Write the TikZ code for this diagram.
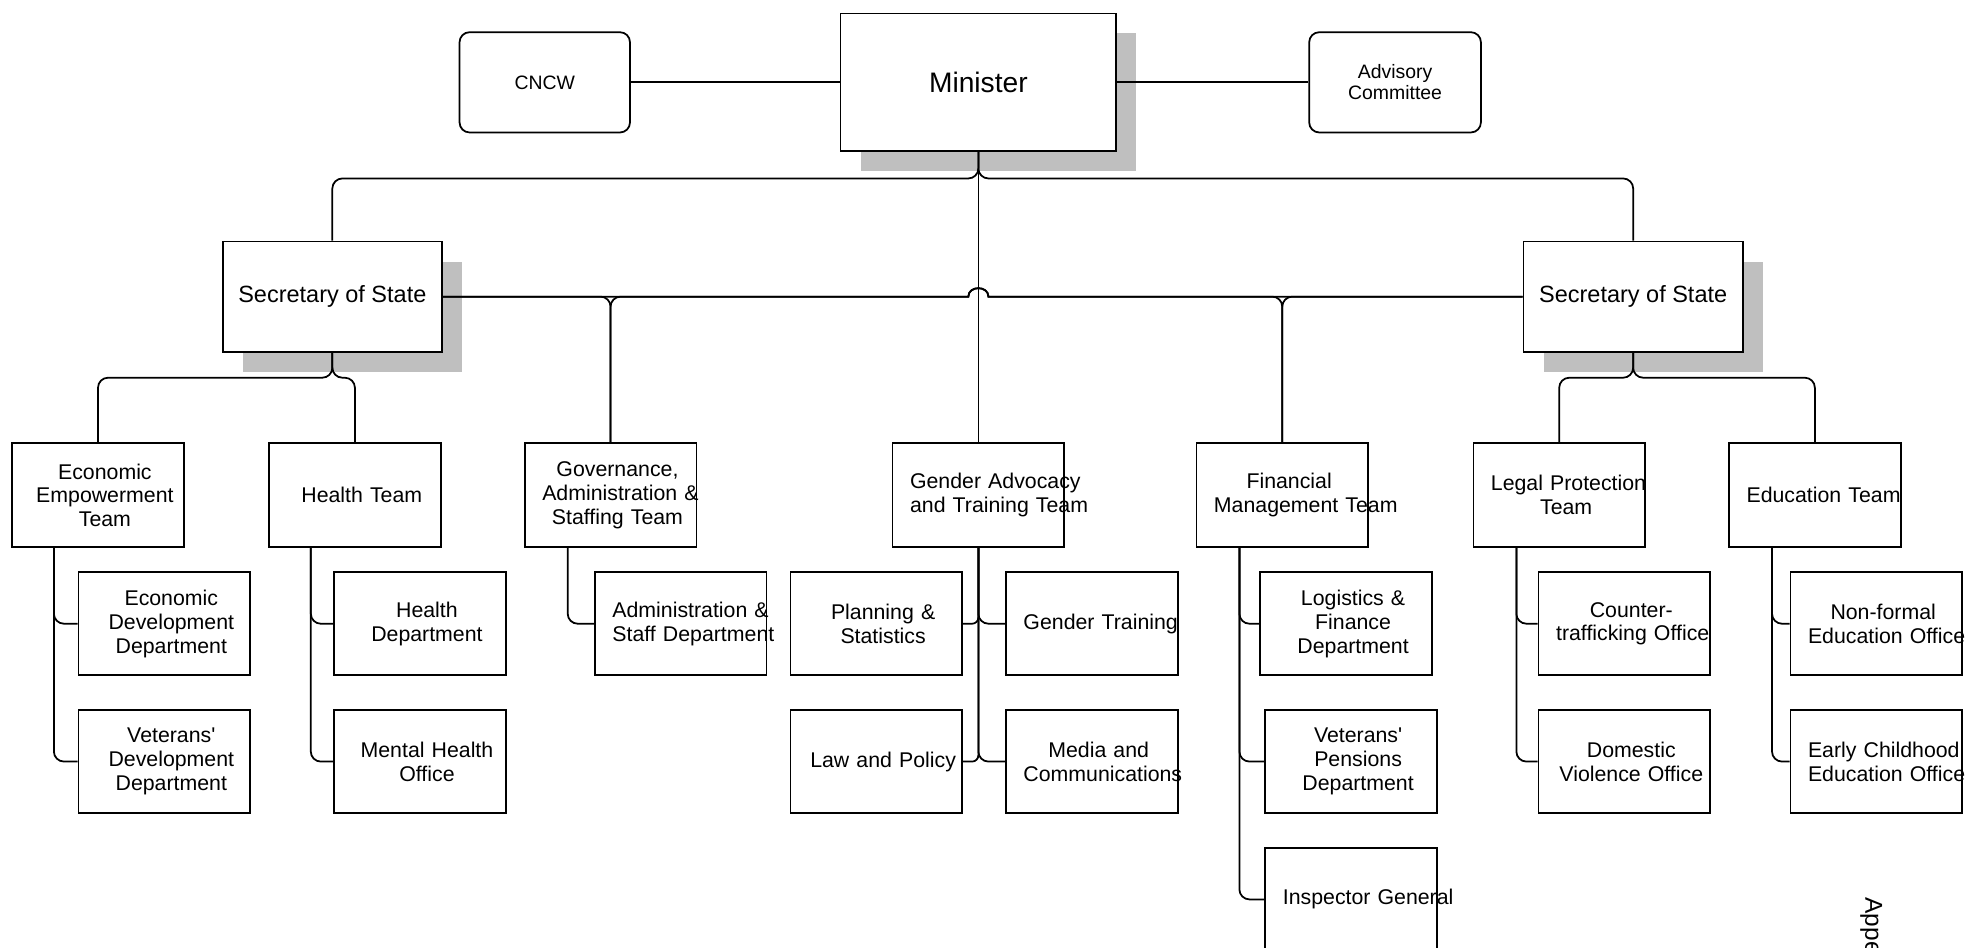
\documentclass[tikz,border=0pt]{standalone}
\usepackage{fontspec}
\setmainfont{Liberation Sans}
\usetikzlibrary{shadows}

\begin{document}
\begin{tikzpicture}[x=1pt,y=-1pt,
font=\fontsize{17}{19}\selectfont,
b/.style={
draw,
line width=1.4pt,
fill=white,
anchor=north west,
inner sep=3pt},
sh/.style={drop shadow={shadow xshift=16pt,shadow yshift=-16pt,fill=black!25,opacity=1}},
rb/.style={b,rounded corners=8pt,minimum width=137pt,minimum height=80pt,align=center,font=\fontsize{15.5}{17}\selectfont},
sb/.style={b,sh,minimum width=175pt,minimum height=88pt,font=\fontsize{18.75}{22}\selectfont},
tb/.style={b,text width=131pt,minimum height=83pt,
execute at begin node={\centering\leftskip=11pt plus 1fil\hyphenpenalty=10000}},
ub/.style={tb,minimum height=82pt},
conn/.style={line width=1.4pt},
rc/.style={rounded corners=8pt},
]
\useasboundingbox(0,0)rectangle(1568,756);
%Top
\node[b,sh,minimum width=220pt,minimum height=110pt,font=\fontsize{22.5}{26}\selectfont](minister)at(670,10){Minister};
\node[rb,minimum width=136pt](cncw)at(366,25){CNCW};
\node[rb](advisory)at(1044,25){Advisory\\Committee};
\draw[conn](cncw)--(minister);
\draw[conn](minister)--(advisory);
%Secretaries
\node[sb](sosl)at(177,192){Secretary of State};
\node[sb](sosr)at(1215,192){Secretary of State};
\draw[conn,rc](minister.south)--++(0,21)-|(sosl.north);
\draw[conn,rc](minister.south)--++(0,21)-|(sosr.north);
\coordinate(cross)at(minister.south|-sosl.east);
%Teams
\node[tb](econ)at(9,353){Economic\\Empowerment\\Team};
\node[tb](health)at(214,353){Health~Team};
\node[tb](gov)at(418,353){Governance,\\Administration~\&\\Staffing~Team};
\node[tb](gender)at(711.5,353){Gender~Advocacy\\and~Training~Team};
\node[tb](fin)at(954,353){Financial\\Management~Team};
\node[tb](legal)at(1175,353){Legal~Protection\\Team};
\node[tb](edu)at(1379,353){Education~Team};
\draw[conn](minister.south)--(gender.north);
\draw[conn,rc](sosl.south)--++(0,20)-|(econ.north);
\draw[conn,rc](sosl.south)--++(0,20)-|(health.north);
\draw[conn,rc](sosr.south)--++(0,20)-|(legal.north);
\draw[conn,rc](sosr.south)--++(0,20)-|(edu.north);
\draw[conn,rc](sosl.east)-|(gov.north);
\draw[conn](sosr.west)--([xshift=8pt]cross)..controls+(0,-9)and+(0,-9)..([xshift=-8pt]cross)[rounded corners=8pt]-|(gov.north);
\draw[conn](sosl.east)--([xshift=-8pt]cross)..controls+(0,-9)and+(0,-9)..([xshift=8pt]cross)[rounded corners=8pt]-|(fin.north);
\draw[conn,rc](sosr.west)-|(fin.north);
%%Units
\node[ub](econdev)at(62,456){Economic\\Development\\Department};
\node[ub](vetdev)at(62,566){Veterans\textquotesingle\\Development\\Department};
\node[ub](healthdept)at(266,456){Health\\Department};
\node[ub](mental)at(266,566){Mental~Health\\Office};
\node[ub](adminstaff)at(474,456){Administration~\&\\Staff~Department};
\node[ub](planning)at(630,456){Planning~\&\\Statistics};
\node[ub](gtrain)at(802,456){Gender~Training};
\node[ub](lawpol)at(630,566){Law~and~Policy};
\node[ub](media)at(802,566){Media~and\\Communications};
\node[ub](logfin)at(1005,456){Logistics~\&\\Finance\\Department};
\node[ub](vetpen)at(1009,566){Veterans\textquotesingle\\Pensions\\Department};
\node[ub](inspector)at(1009,676){Inspector~General};
\node[ub](counter)at(1227,456){Counter-\\trafficking~Office};
\node[ub](domestic)at(1227,566){Domestic\\Violence~Office};
\node[ub](nonformal)at(1428,456){Non-formal\\Education~Office};
\node[ub](early)at(1428,566){Early~Childhood\\Education~Office};
\draw[conn,rc]([xshift=34pt]econ.south west)|-(econdev.west);
\draw[conn,rc]([xshift=34pt]econ.south west)|-(vetdev.west);
\draw[conn,rc]([xshift=34pt]health.south west)|-(healthdept.west);
\draw[conn,rc]([xshift=34pt]health.south west)|-(mental.west);
\draw[conn,rc]([xshift=35pt]gov.south west)|-(adminstaff.west);
\draw[conn,rc](gender.south)|-(gtrain.west);
\draw[conn,rc](gender.south)|-(media.west);
\draw[conn,rounded corners=5pt](gender.south)|-(planning.east);
\draw[conn,rounded corners=5pt](gender.south)|-(lawpol.east);
\draw[conn,rc]([xshift=35pt]fin.south west)|-(logfin.west);
\draw[conn,rc]([xshift=35pt]fin.south west)|-(vetpen.west);
\draw[conn,rc]([xshift=35pt]fin.south west)|-(inspector.west);
\draw[conn,rc]([xshift=35pt]legal.south west)|-(counter.west);
\draw[conn,rc]([xshift=35pt]legal.south west)|-(domestic.west);
\draw[conn,rc]([xshift=35pt]edu.south west)|-(nonformal.west);
\draw[conn,rc]([xshift=35pt]edu.south west)|-(early.west);
%Page note
\node[rotate=-90,anchor=north west,inner sep=0pt,font=\fontsize{19.5}{22}\selectfont](appe)at(1502,716){Appe};
\end{tikzpicture}
\end{document}
